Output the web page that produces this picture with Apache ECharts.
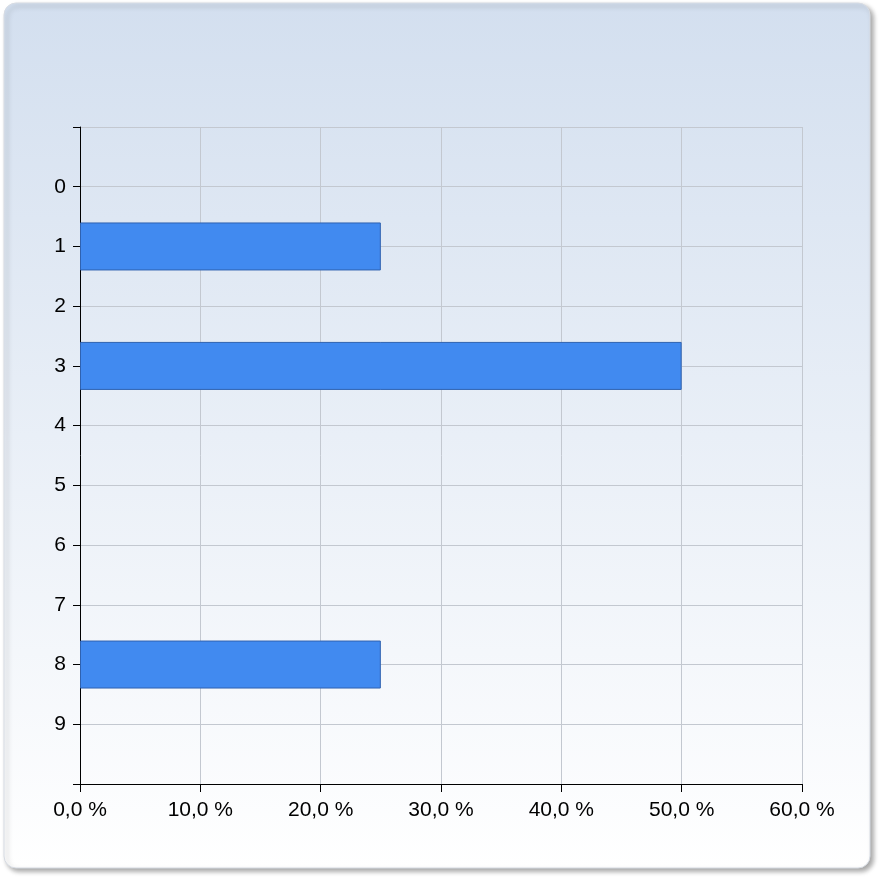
<!DOCTYPE html>
<html>
<head>
<meta charset="utf-8">
<script src="https://cdn.jsdelivr.net/npm/echarts@6/dist/echarts.min.js"></script>
<style>
html,body{margin:0;padding:0;background:#ffffff;}
#chart{width:882px;height:882px;}
</style>
</head>
<body>
<div id="chart"></div>
<script>
var categories = ['0', '1', '2', '3', '4', '5', '6', '7', '8', '9'];
var values = [0, 25, 0, 50, 0, 0, 0, 0, 25, 0];
var xTicks = [0, 10, 20, 30, 40, 50, 60];

var yData = [''].concat(categories).concat(['']);
var sData = [null].concat(values.map(function (v) { return v === 0 ? null : v; })).concat([null]);

var chart = echarts.init(document.getElementById('chart'), null, { renderer: 'canvas' });
chart.setOption({
  animation: false,
  graphic: [{
    type: 'rect',
    z: -100,
    shape: { x: 4, y: 3, width: 866, height: 865, r: 12 },
    style: {
      fill: new echarts.graphic.LinearGradient(0, 0, 0, 1, [
        { offset: 0, color: '#D3DFEF' },
        { offset: 1, color: '#FFFFFF' }
      ]),
      stroke: '#d6dbe3',
      lineWidth: 1,
      shadowBlur: 5,
      shadowOffsetX: 3,
      shadowOffsetY: 3,
      shadowColor: 'rgba(0,0,0,0.35)'
    }
  }],
  grid: { left: 80, right: 80, top: 127, bottom: 98, containLabel: false },
  xAxis: {
    type: 'value',
    min: xTicks[0],
    max: xTicks[xTicks.length - 1],
    interval: 10,
    axisLine: { show: true, lineStyle: { color: '#000000', width: 1 } },
    axisTick: { show: true, length: 8, lineStyle: { color: '#000000' } },
    axisLabel: {
      margin: 16,
      fontSize: 21,
      fontFamily: 'Liberation Sans, Arial, sans-serif',
      color: '#000000',
      formatter: function (v) { return v.toFixed(1).replace('.', ',') + ' %'; }
    },
    splitLine: { show: true, lineStyle: { color: '#c3c8d0', width: 1 } }
  },
  yAxis: {
    type: 'category',
    inverse: true,
    boundaryGap: false,
    data: yData,
    axisLine: { show: true, onZero: false, lineStyle: { color: '#000000', width: 1 } },
    axisTick: { show: true, length: 7, interval: 0, lineStyle: { color: '#000000' } },
    axisLabel: {
      interval: 0,
      margin: 14,
      fontSize: 21,
      fontFamily: 'Liberation Sans, Arial, sans-serif',
      color: '#000000'
    },
    splitLine: { show: true, interval: 0, lineStyle: { color: '#c3c8d0', width: 1 } }
  },
  series: [{
    type: 'bar',
    data: sData,
    barWidth: 48,
    itemStyle: { color: '#418AF0', borderColor: '#2F62B0', borderWidth: 1 }
  }]
});
</script>
</body>
</html>
